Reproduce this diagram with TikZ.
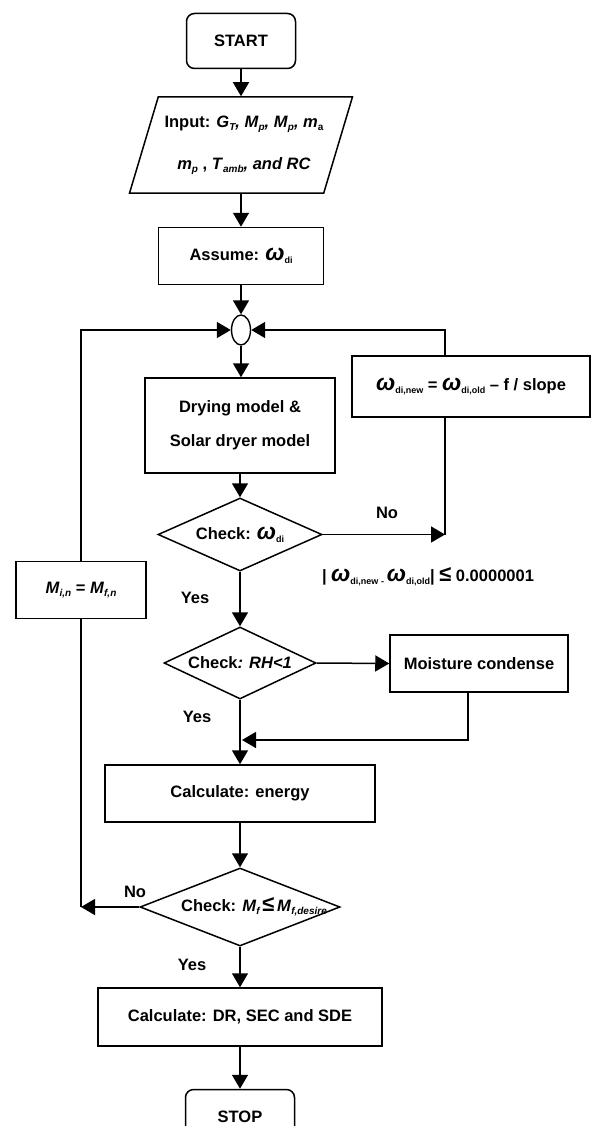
\documentclass[tikz,border=0pt]{standalone}
\usepackage{fontspec}
\setmainfont{Liberation Sans}
\usetikzlibrary{shapes.geometric, arrows.meta, positioning, calc}
\newcommand{\om}[1]{{\fontsize{23}{23}\selectfont\itshape ω}\raisebox{-3pt}{\fontsize{9}{9}\selectfont #1}}
\newcommand{\sv}[2]{\textit{#1}\raisebox{-3pt}{\fontsize{10}{10}\selectfont\itshape #2}}

\begin{document}
\begin{tikzpicture}[
    x=1pt, y=-1pt,
    every node/.style={font=\bfseries\fontsize{16.5}{20}\selectfont},
    term/.style={rectangle, draw, line width=1.5pt, rounded corners=8pt,
                 minimum width=109pt, minimum height=55pt, align=center},
    proc/.style={rectangle, draw, line width=1.5pt, minimum height=57pt,
                 inner sep=0pt, align=center},
    io/.style={trapezium, draw, line width=1.5pt, trapezium left angle=64,
               trapezium right angle=116, trapezium stretches=true,
               minimum width=223pt, minimum height=96pt, inner sep=0pt, align=center},
    dec/.style={diamond, draw, line width=1.5pt, inner sep=0pt},
    junc/.style={ellipse, draw, line width=1.4pt, minimum width=19pt,
                 minimum height=30pt, inner sep=0pt},
    arr/.style={-{Triangle[length=14pt, width=16pt]}, line width=1.5pt},
    ln/.style={line width=1.5pt},
    lbl/.style={inner sep=1pt}
]
    \useasboundingbox (0,0) rectangle (600,1126);
    \clip (0,0) rectangle (600,1126);

    \node[term] (start)  at (241, 41)   {START};
    \node[io, font=\bfseries\fontsize{16.5}{42}\selectfont] (inp) at (241, 145)
        {\hspace*{6pt}Input: \sv{G}{T}\textit{,} \sv{M}{p}\textit{,} \sv{M}{p}\textit{,} \textit{m}\raisebox{-3pt}{\fontsize{10}{10}\selectfont a}\\
         \hspace*{6pt}\sv{m}{p} , \sv{T}{amb}\textit{, and RC}};
    \node[proc, minimum width=165pt] (assume) at (241, 256) {Assume: \om{di}};
    \node[junc] (jn) at (241, 330) {};
    \node[proc, minimum width=238pt, minimum height=61pt] (newom) at (471, 386.5)
        {\om{di,new} = \om{di,old} – f / slope};
    \node[proc, minimum width=190pt, minimum height=95pt,
          font=\bfseries\fontsize{16.5}{34}\selectfont] (dry) at (240, 425.5)
        {Drying model \&\\Solar dryer model};
    \node[dec, minimum width=164pt, minimum height=73pt,
          label={center:Check: \om{di}}] (chk1) at (240, 534.5) {};
    \node[proc, minimum width=130pt] (mbox) at (81, 590)
        {\sv{M}{i,n} = \sv{M}{f,n}};
    \node[dec, minimum width=152pt, minimum height=72pt,
          label={center:Check\textit{: RH<1}}] (chk2) at (240, 663) {};
    \node[proc, minimum width=178pt] (moist) at (479, 663.5) {Moisture condense};
    \node[proc, minimum width=270pt] (energy) at (240, 793.5) {Calculate: energy};
    \node[dec, minimum width=200pt, minimum height=78pt,
          label={[xshift=14pt]center:Check: \sv{M}{f}\,{\fontsize{22}{22}\selectfont ≤}\,\sv{M}{f,desire}}] (chk3) at (240, 907) {};
    \node[proc, minimum width=284pt, minimum height=58pt] (dr) at (240, 1017)
        {Calculate: DR, SEC and SDE};
    \node[term] (stop) at (240, 1117) {STOP};

    % labels
    \node[lbl] (no1)  at (387, 513) {No};
    \node[lbl] (cond) at (428, 577)
        {| \om{di,new}\,\raisebox{-3pt}{\fontsize{9}{9}\selectfont -}\,\om{di,old}| {\fontsize{22}{22}\selectfont ≤} 0.0000001};
    \node[lbl] (yes1) at (195, 598) {Yes};
    \node[lbl] (yes2) at (197, 717) {Yes};
    \node[lbl] (no3)  at (135, 892) {No};
    \node[lbl] (yes3) at (192, 965) {Yes};

    % bends
    \coordinate (rt)  at (445, 330);
    \coordinate (nb)  at (445, 534.5);
    \coordinate (mj)  at (468, 740);
    \coordinate (lft) at (81, 907);

    \draw[arr] (start) -- (inp);
    \draw[arr] (inp.south -| start) -- (assume);
    \draw[arr] (assume) -- (jn);
    \draw[arr] (jn) -- (jn |- dry.north);
    \draw[arr] (dry) -- (chk1);
    \draw[arr] (chk1.east) -- (nb);
    \draw[ln]  (nb) -- (nb |- newom.south);
    \draw[arr] (newom.north -| rt) -- (rt) -- (jn.east);
    \draw[arr] (chk1) -- (chk2);
    \draw[arr] (chk2.east) -- (moist.west);
    \draw[arr] (chk2) -- (energy);
    \draw[arr] (moist.south -| mj) -- (mj) -- ($(mj -| chk2.south)+(2,0)$);
    \draw[arr] (energy) -- (chk3);
    \draw[arr] (chk3.west) -- (lft);
    \draw[ln]  (lft) -- (mbox.south);
    \draw[arr] (mbox.north) |- (jn.west);
    \draw[arr] (chk3) -- (dr);
    \draw[arr] (dr) -- (stop);
\end{tikzpicture}
\end{document}
